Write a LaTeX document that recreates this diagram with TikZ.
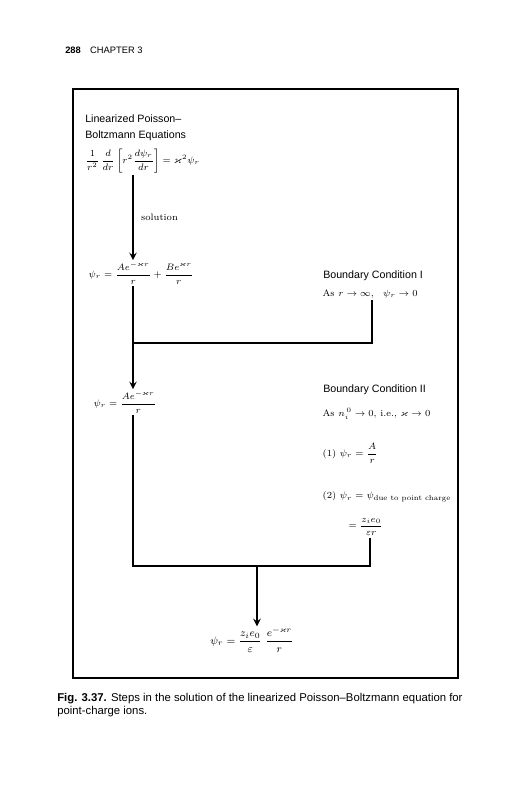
\documentclass[tikz,border=0pt]{standalone}
\usepackage{fontspec}
\setsansfont{Liberation Sans}
\usepackage{amsmath,amssymb}

\begin{document}
\begin{tikzpicture}[x=0.75pt, y=-0.75pt,
    lbl/.style={anchor=west, inner sep=0pt, align=left, font=\sffamily\fontsize{8}{12}\selectfont},
    eqn/.style={anchor=west, inner sep=1pt, font=\fontsize{7.5}{9}\selectfont},
    eqs/.style={anchor=west, inner sep=1pt, font=\scriptsize},
    arr/.style={->, line width=1.5pt, >=stealth},
    link/.style={line width=1.5pt}
]
\useasboundingbox (0,0) rectangle (531,800);

% page header and frame
\node[anchor=west, inner sep=0pt, font=\sffamily\fontsize{7}{8}\selectfont] (head) at (65,50) {\textbf{288}\quad CHAPTER 3};
\draw[line width=1.5pt] (73,89) rectangle (458,678);

% left column: the equations
\node[lbl] (title) at (85,128) {Linearized Poisson--\\Boltzmann Equations};
\node[eqn] (pbe) at (84,161) {$\dfrac{1}{r^2}\,\dfrac{d}{dr}\left[r^2\dfrac{d\psi_r}{dr}\right]=\varkappa^2\psi_r$};
\node[eqn] (gen) at (87,273) {$\psi_r=\dfrac{Ae^{-\varkappa r}}{r}+\dfrac{Be^{\varkappa r}}{r}$};
\node[eqn] (bare) at (92,402) {$\psi_r=\dfrac{Ae^{-\varkappa r}}{r}$};
\node[eqn, anchor=center, font=\footnotesize] (final) at (252,640) {$\psi_r=\dfrac{z_ie_0}{\varepsilon}\;\dfrac{e^{-\varkappa r}}{r}$};

% right column: the boundary conditions
\node[lbl] (bc1) at (323,276) {Boundary Condition I};
\node[eqs] (bc1eq) at (321,294) {As $r\to\infty$,\quad$\psi_r\to0$};
\node[lbl] (bc2) at (323,390) {Boundary Condition II};
\node[eqs] (bc2a) at (321,414) {As $n_i^{\,0}\to0$, i.e., $\varkappa\to0$};
\node[eqs] (bc2b) at (321,453) {(1) $\psi_r=\dfrac{A}{r}$};
\node[eqs] (bc2c) at (321,497) {(2) $\psi_r=\psi_{\text{\fontsize{5.5}{6}\selectfont due to point charge}}$};
\node[eqs] (bc2d) at (347,527) {$=\dfrac{z_ie_0}{\varepsilon r}$};

% connectors
\coordinate (spine) at (133,0);
\coordinate (bc1x) at (372,0);
\coordinate (bc2x) at (370,0);
\coordinate (merge) at (257,0);
\coordinate (j1) at (133,343);
\coordinate (j2) at (133,566);

\draw[arr] (pbe.south -| spine) -- node[right, font=\scriptsize, xshift=2pt]{solution} (gen.north -| spine);
\draw[arr] (gen.south -| spine) -- (bare.north -| spine);
\draw[link] (bc1eq.south -| bc1x) |- (j1);
\draw[link] (bare.south -| spine) -- (j2) -- (j2 -| bc2x) -- (bc2d.south -| bc2x);
\draw[arr] (j2 -| merge) -- (final.north -| merge);

% caption
\node[anchor=north west, inner sep=0pt, align=left, font=\sffamily\fontsize{8.5}{9.5}\selectfont] (caption) at (57,693)
  {\textbf{Fig. 3.37.} Steps in the solution of the linearized Poisson--Boltzmann equation for\\point-charge ions.};
\end{tikzpicture}
\end{document}
